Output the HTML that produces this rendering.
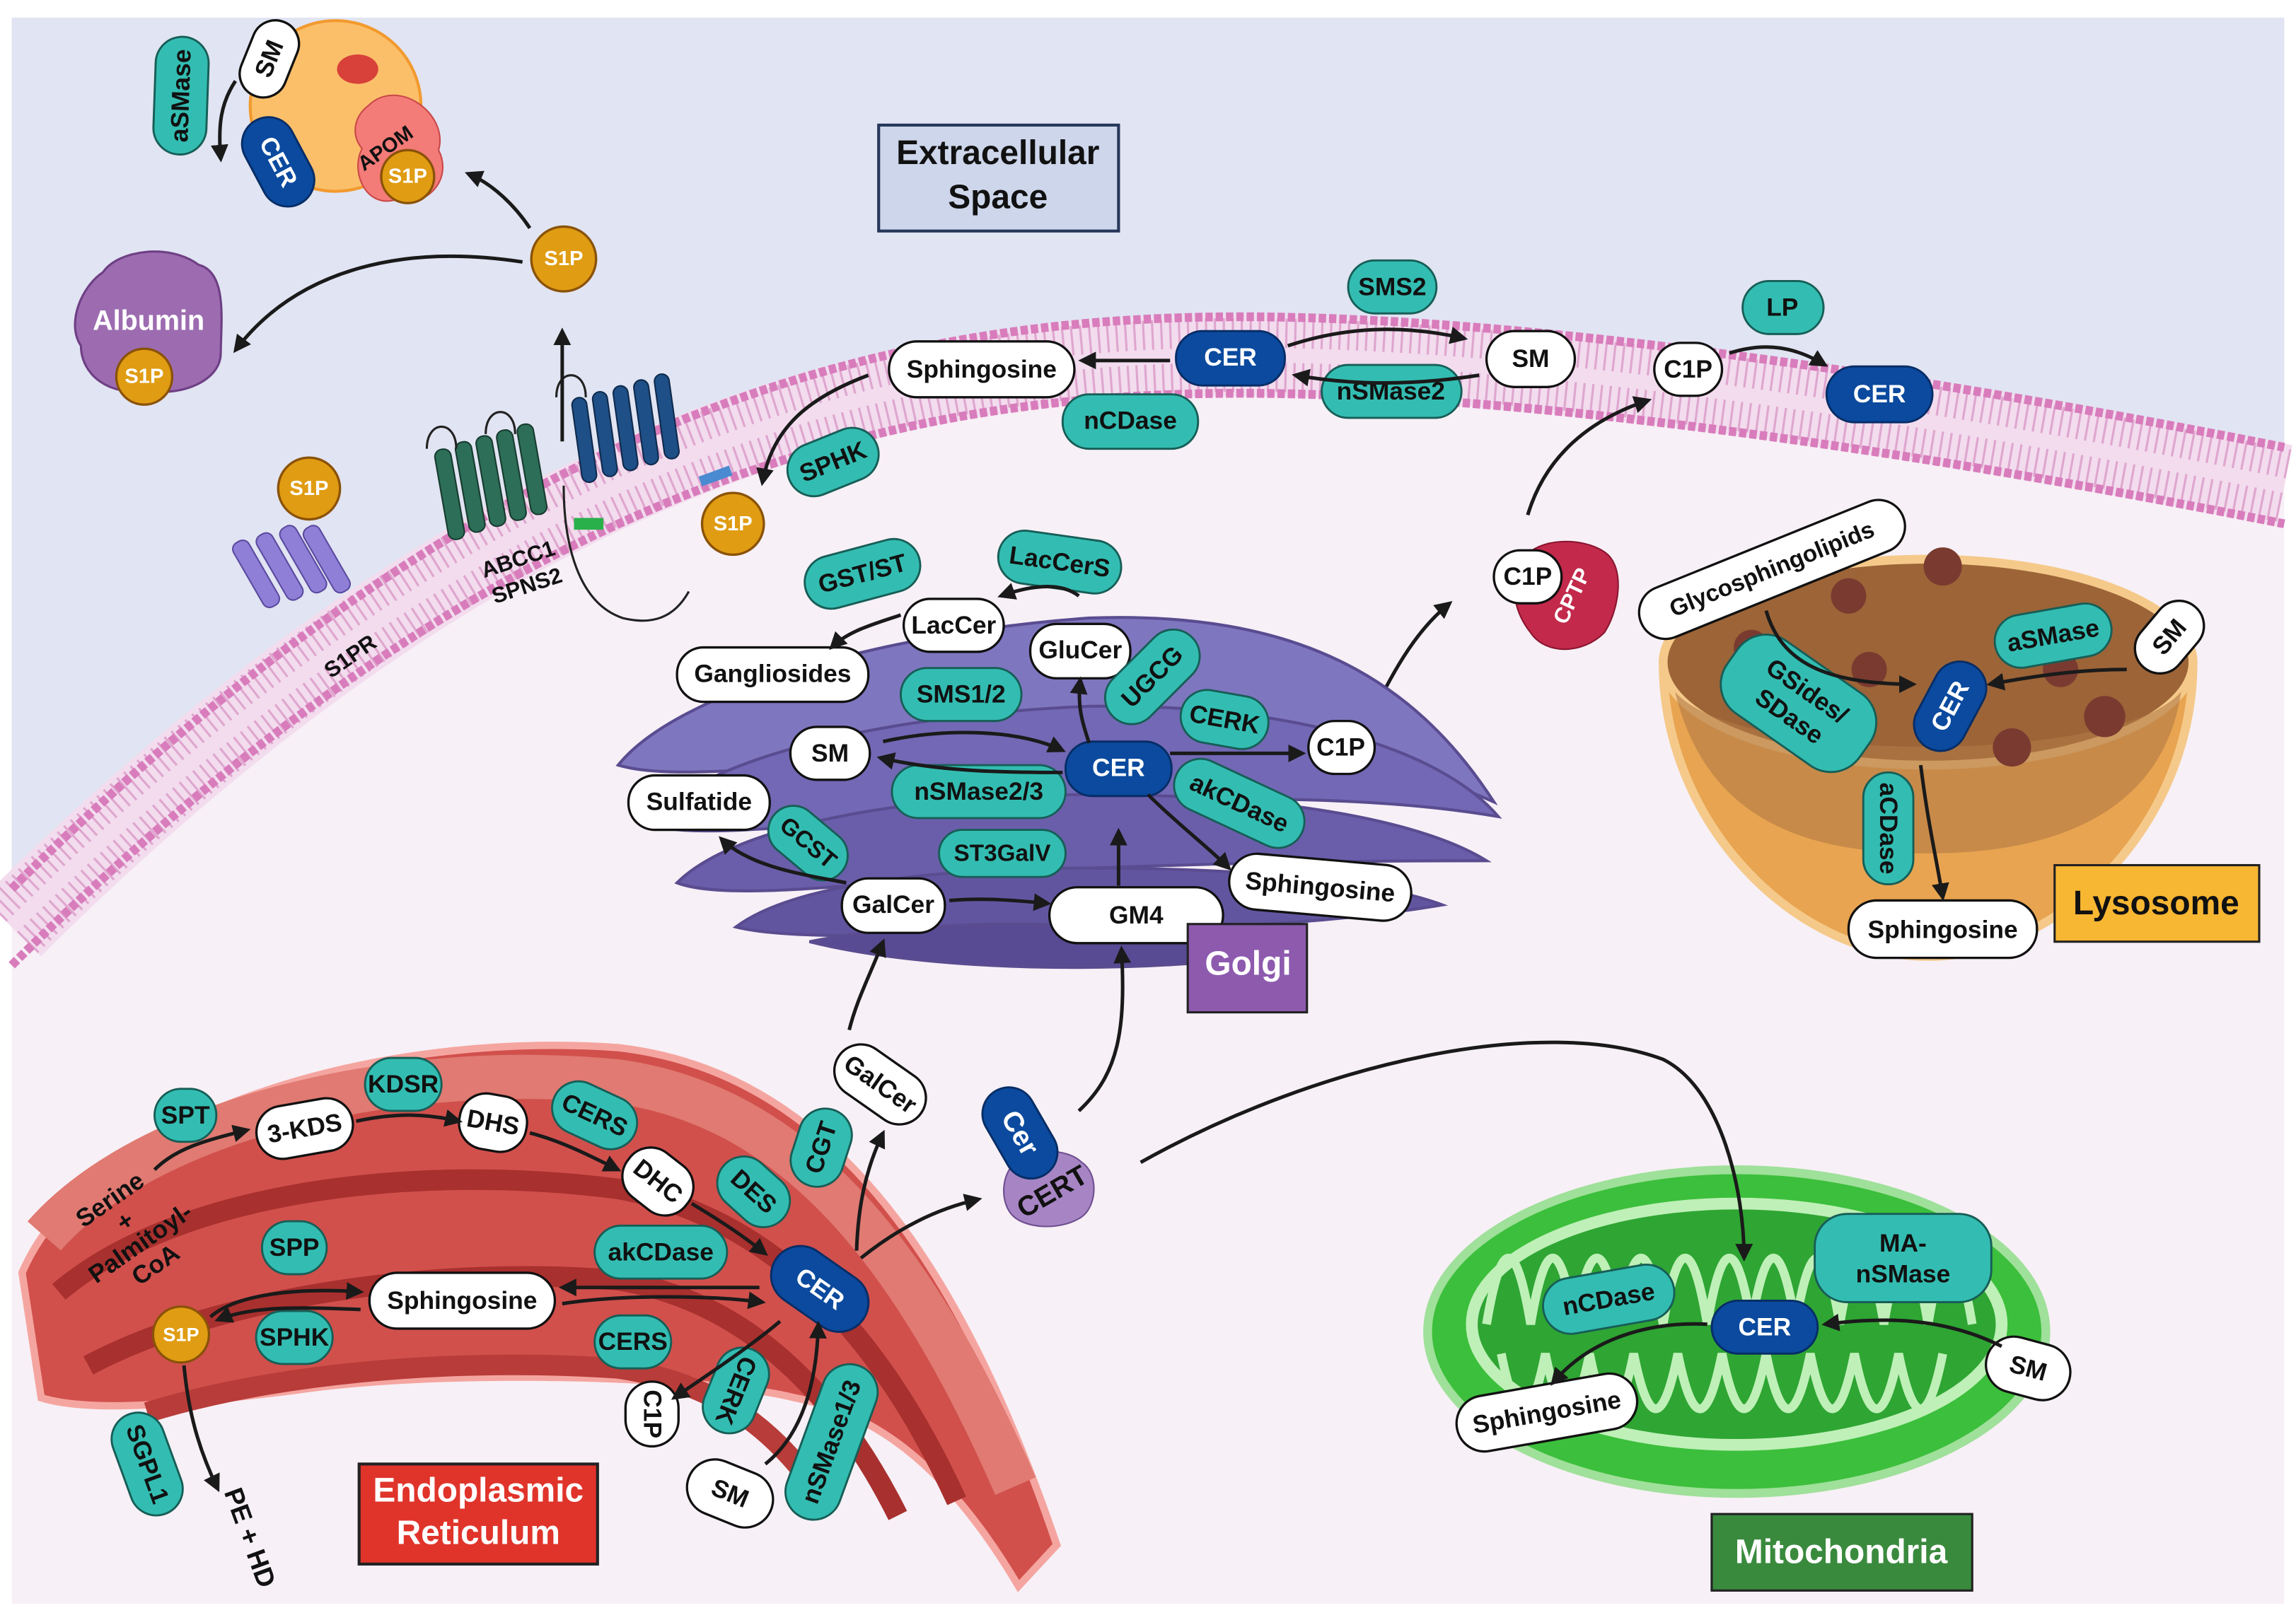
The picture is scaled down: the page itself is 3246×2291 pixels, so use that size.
<!DOCTYPE html>
<html><head><meta charset="utf-8"><style>
html,body{margin:0;padding:0;background:#fff}
svg{display:block}
.w{fill:#fff;stroke:#111;stroke-width:1.6}
.t{fill:#33bdb2;stroke:#175e57;stroke-width:1.4}
.b{fill:#0b4a9e;stroke:#062d66;stroke-width:1.4}
.o{fill:#e09c12;stroke:#8a5208;stroke-width:1.6}
text{font-family:"Liberation Sans",sans-serif;font-weight:bold;text-anchor:middle;dominant-baseline:central;fill:#111}
.wt{fill:#fff}
.a{fill:none;stroke:#1a1a1a;stroke-width:2.4;marker-end:url(#ar)}
</style></head><body>
<svg width="3246" height="2291" viewBox="0 0 1560 1101" font-size="17" xmlns="http://www.w3.org/2000/svg">
<defs>
<marker id="ar" viewBox="0 0 10 10" refX="8" refY="5" markerWidth="5" markerHeight="5" orient="auto"><path d="M0,0L10,5L0,10z" fill="#1a1a1a"/></marker>
</defs>
<rect x="0" y="0" width="1560" height="1101" fill="#fff"/>
<rect x="8" y="12" width="1544" height="1078" fill="#f7f0f6"/>
<path d="M8,12H1552V320C1300,270 1000,225 800,232C550,240 300,330 8,620Z" fill="#e1e4f2"/>
<!-- membrane -->
<path d="M8,630C300,340 550,250 800,242C1000,235 1300,280 1552,330" fill="none" stroke="#f2dcee" stroke-width="56"/>
<path d="M8,630C300,340 550,250 800,242C1000,235 1300,280 1552,330" fill="none" stroke="#d78fc0" stroke-width="50" stroke-dasharray="1.5 4.5" opacity=".7"/>
<path d="M8,630C300,340 550,250 800,242C1000,235 1300,280 1552,330" fill="none" stroke="#f2dcee" stroke-width="10"/>
<path d="M8,604C300,314 550,224 800,216C1000,209 1300,254 1552,304" fill="none" stroke="#d87cbc" stroke-width="6" stroke-dasharray="5 2"/>
<path d="M8,656C300,366 550,276 800,268C1000,261 1300,306 1552,356" fill="none" stroke="#d87cbc" stroke-width="6" stroke-dasharray="5 2"/>

<!-- HDL -->
<circle cx="228" cy="72" r="58" fill="#fbbf6a" stroke="#f29a2e" stroke-width="2"/>
<path d="M250,72c20,-20 55,5 48,30c10,20 -8,40 -30,34c-20,5 -30,-20 -22,-35c-8,-10 -5,-22 4,-29z" fill="#f37b78" stroke="#c94848"/>
<ellipse cx="243" cy="47" rx="14" ry="10" fill="#d8403a"/>
<g transform="translate(123,65) rotate(-88)"><rect x="-40" y="-18" width="80" height="36" rx="18" class="t"/><text>aSMase</text></g>
<g transform="translate(183,40) rotate(-68)"><rect x="-27" y="-16" width="54" height="32" rx="16" class="w"/><text>SM</text></g>
<g transform="translate(189,110) rotate(62)"><rect x="-32" y="-18" width="64" height="36" rx="18" class="b"/><text class="wt">CER</text></g>
<text x="262" y="101" transform="rotate(-35 262 101)" font-size="14">APOM</text>
<circle cx="277" cy="120" r="18" class="o"/><text x="277" y="120" class="wt" font-size="14">S1P</text>
<path class="a" d="M160,55C150,70 148,85 150,108"/>
<path class="a" d="M360,155C350,140 335,125 318,118"/>
<circle cx="383" cy="176" r="22" class="o"/><text x="383" y="176" class="wt" font-size="14">S1P</text>
<path class="a" d="M355,178C270,165 200,185 160,238"/>
<path d="M70,185c10,-15 45,-20 65,-5c20,5 15,40 15,60c0,20 -30,30 -50,25c-25,5 -45,-10 -45,-30c-10,-15 0,-40 15,-50z" fill="#9d6cb0" stroke="#6e3f85" stroke-width="1.5"/>
<text x="101" y="218" class="wt" font-size="19">Albumin</text>
<circle cx="98" cy="256" r="19" class="o"/><text x="98" y="256" class="wt" font-size="14">S1P</text>

<rect x="597" y="85" width="163" height="72" fill="#cdd6ea" stroke="#26375a" stroke-width="2"/>
<text x="678" y="104" font-size="23">Extracellular</text><text x="678" y="134" font-size="23">Space</text>

<circle cx="210" cy="332" r="21" class="o"/><text x="210" y="332" class="wt" font-size="14">S1P</text>
<g fill="#8f7fd6" stroke="#5a4aa0"><rect x="168" y="365" width="12" height="50" rx="5" transform="rotate(-30 174 390)"/><rect x="184" y="360" width="12" height="50" rx="5" transform="rotate(-30 190 385)"/><rect x="200" y="355" width="12" height="50" rx="5" transform="rotate(-30 206 380)"/><rect x="216" y="355" width="12" height="50" rx="5" transform="rotate(-30 222 380)"/></g>
<text x="238" y="446" transform="rotate(-35 238 446)" font-size="15">S1PR</text>
<g fill="#2d6e58" stroke="#163b2e">
<rect x="300" y="305" width="11" height="62" rx="5" transform="rotate(-10 305 336)"/><rect x="314" y="300" width="11" height="62" rx="5" transform="rotate(-10 319 331)"/><rect x="328" y="296" width="11" height="62" rx="5" transform="rotate(-10 333 327)"/><rect x="342" y="292" width="11" height="62" rx="5" transform="rotate(-10 347 323)"/><rect x="356" y="288" width="11" height="62" rx="5" transform="rotate(-10 361 319)"/></g>
<path d="M290,305c0,-20 20,-20 20,0M330,295c0,-20 20,-20 20,0" fill="none" stroke="#222" stroke-width="1.5"/>
<text x="352" y="380" transform="rotate(-18 352 380)" font-size="15">ABCC1</text>
<text x="358" y="398" transform="rotate(-18 358 398)" font-size="15">SPNS2</text>
<g fill="#1e4f86" stroke="#0e2a4d">
<rect x="392" y="270" width="10" height="58" rx="5" transform="rotate(-8 397 299)"/><rect x="406" y="266" width="10" height="58" rx="5" transform="rotate(-8 411 295)"/><rect x="420" y="262" width="10" height="58" rx="5" transform="rotate(-8 425 291)"/><rect x="434" y="258" width="10" height="58" rx="5" transform="rotate(-8 439 287)"/><rect x="448" y="254" width="10" height="58" rx="5" transform="rotate(-8 453 283)"/></g>
<path d="M378,270c0,-20 20,-20 20,0M383,330c0,40 10,80 40,90c20,5 35,0 45,-18" fill="none" stroke="#222" stroke-width="1.5"/>
<path class="a" d="M382,300V225"/>
<rect x="390" y="352" width="20" height="8" fill="#2ab04a"/>
<rect x="475" y="320" width="22" height="7" fill="#4a8ad0" transform="rotate(-20 486 323)"/>
<circle cx="498" cy="356" r="21" class="o"/><text x="498" y="356" class="wt" font-size="14">S1P</text>

<rect x="604" y="232" width="126" height="38" rx="19" class="w"/><text x="667" y="251">Sphingosine</text>
<rect x="799" y="225" width="74" height="37" rx="18" class="b"/><text x="836" y="243" class="wt">CER</text>
<rect x="916" y="177" width="60" height="36" rx="18" class="t"/><text x="946" y="195">SMS2</text>
<rect x="1010" y="225" width="60" height="38" rx="19" class="w"/><text x="1040" y="244">SM</text>
<rect x="898" y="248" width="95" height="36" rx="18" class="t"/><text x="945" y="266">nSMase2</text>
<rect x="722" y="268" width="92" height="37" rx="18" class="t"/><text x="768" y="286">nCDase</text>
<g transform="translate(566,314) rotate(-22)"><rect x="-32" y="-18" width="64" height="36" rx="18" class="t"/><text>SPHK</text></g>
<path class="a" d="M795,245H735"/>
<path class="a" d="M875,235C920,220 960,222 995,230"/>
<path class="a" d="M1005,255C960,262 920,262 880,255"/>
<path class="a" d="M590,255C550,270 525,290 518,328"/>
<rect x="1184" y="191" width="55" height="36" rx="18" class="t"/><text x="1211" y="209">LP</text>
<rect x="1124" y="233" width="46" height="36" rx="18" class="w"/><text x="1147" y="251">C1P</text>
<rect x="1241" y="249" width="72" height="38" rx="19" class="b"/><text x="1277" y="268" class="wt">CER</text>
<path class="a" d="M1175,240C1200,232 1220,236 1240,248"/>
<path class="a" d="M1038,350C1050,310 1080,285 1120,272"/>
<path d="M1035,380c10,-15 40,-15 55,-5c15,10 10,40 0,55c-15,15 -40,15 -50,0c-12,-15 -15,-35 -5,-50z" fill="#c2294a" stroke="#8a1530"/>
<text x="1068" y="405" transform="rotate(-65 1068 405)" class="wt" font-size="15">CPTP</text>
<rect x="1015" y="374" width="46" height="36" rx="18" class="w"/><text x="1038" y="392">C1P</text>
<path class="a" d="M930,490C945,460 960,430 985,410"/>

<!-- Lysosome -->
<path d="M1130,450C1130,560 1220,650 1310,650C1400,650 1490,560 1490,450Z" fill="#e8a450" stroke="#f5c98a" stroke-width="6"/>
<ellipse cx="1310" cy="450" rx="180" ry="70" fill="#9c6437" stroke="#f5c98a" stroke-width="6"/>
<path d="M1138,470C1160,560 1230,580 1310,580C1400,580 1470,550 1482,470C1440,520 1180,520 1138,470z" fill="#b07a45" opacity=".6"/>
<g fill="#7a3a30"><circle cx="1320" cy="385" r="13"/><circle cx="1256" cy="405" r="12"/><circle cx="1190" cy="440" r="12"/><circle cx="1270" cy="455" r="12"/><circle cx="1430" cy="487" r="14"/><circle cx="1367" cy="508" r="13"/><circle cx="1400" cy="455" r="12"/></g>
<g transform="translate(1204,387) rotate(-22)"><rect x="-96" y="-18" width="192" height="36" rx="18" class="w"/><text font-size="16">Glycosphingolipids</text></g>
<g transform="translate(1395,432) rotate(-10)"><rect x="-40" y="-18" width="80" height="36" rx="18" class="t"/><text>aSMase</text></g>
<g transform="translate(1474,433) rotate(-50)"><rect x="-27" y="-17" width="54" height="34" rx="17" class="w"/><text>SM</text></g>
<g transform="translate(1222,478) rotate(35)"><rect x="-55" y="-30" width="110" height="60" rx="24" class="t"/><text y="-10">GSides/</text><text y="11">SDase</text></g>
<g transform="translate(1325,480) rotate(-62)"><rect x="-32" y="-18" width="64" height="36" rx="18" class="b"/><text class="wt">CER</text></g>
<g transform="translate(1283,563) rotate(90)"><rect x="-38" y="-17" width="76" height="34" rx="17" class="t"/><text>aCDase</text></g>
<rect x="1256" y="612" width="128" height="39" rx="19" class="w"/><text x="1320" y="632">Sphingosine</text>
<path class="a" d="M1200,415C1210,450 1240,465 1300,465"/>
<path class="a" d="M1445,455C1410,455 1380,460 1352,465"/>
<path class="a" d="M1305,520C1310,560 1315,580 1320,610"/>
<rect x="1396" y="588" width="139" height="52" fill="#f8b733" stroke="#222" stroke-width="1.5"/><text x="1465" y="614" font-size="23">Lysosome</text>

<!-- Golgi -->
<g stroke="#5a4c90" stroke-width="2" fill="#7f76c0">
<path d="M420,520C460,470 600,430 740,420C880,415 960,460 1015,545C960,520 880,500 740,505C600,510 470,535 420,520z"/>
<path d="M440,560C480,510 620,485 740,480C880,478 980,510 1018,555C960,545 880,540 740,545C620,550 480,575 440,560z" fill="#7268b5"/>
<path d="M460,600C500,560 620,540 740,540C880,540 970,560 1010,585C950,585 880,585 740,590C620,595 500,615 460,600z" fill="#6a5eab"/>
<path d="M500,630C540,600 640,590 740,590C860,590 940,600 980,615C920,625 860,630 740,632C640,635 540,640 500,630z" fill="#6255a0"/>
<path d="M550,640C600,630 680,625 740,630C800,635 850,640 880,645C820,660 650,665 550,640z" fill="#594a94"/>
</g>
<g transform="translate(586,390) rotate(-15)"><rect x="-40" y="-18" width="80" height="36" rx="18" class="t"/><text>GST/ST</text></g>
<g transform="translate(720,382) rotate(8)"><rect x="-42" y="-18" width="84" height="36" rx="18" class="t"/><text>LacCerS</text></g>
<rect x="614" y="407" width="68" height="36" rx="18" class="w"/><text x="648" y="425">LacCer</text>
<rect x="700" y="424" width="68" height="37" rx="18" class="w"/><text x="734" y="442">GluCer</text>
<rect x="460" y="440" width="130" height="37" rx="18" class="w"/><text x="525" y="458">Gangliosides</text>
<rect x="612" y="454" width="82" height="36" rx="18" class="t"/><text x="653" y="472">SMS1/2</text>
<g transform="translate(783,460) rotate(-45)"><rect x="-38" y="-18" width="76" height="36" rx="18" class="t"/><text>UGCG</text></g>
<g transform="translate(832,489) rotate(10)"><rect x="-30" y="-18" width="60" height="36" rx="18" class="t"/><text>CERK</text></g>
<rect x="537" y="494" width="54" height="36" rx="18" class="w"/><text x="564" y="512">SM</text>
<rect x="724" y="504" width="72" height="37" rx="18" class="b"/><text x="760" y="522" class="wt">CER</text>
<rect x="889" y="490" width="45" height="36" rx="18" class="w"/><text x="911" y="508">C1P</text>
<rect x="606" y="520" width="118" height="36" rx="18" class="t"/><text x="665" y="538">nSMase2/3</text>
<g transform="translate(842,546) rotate(25)"><rect x="-47" y="-18" width="94" height="36" rx="18" class="t"/><text>akCDase</text></g>
<rect x="427" y="527" width="96" height="37" rx="18" class="w"/><text x="475" y="545">Sulfatide</text>
<g transform="translate(549,573) rotate(40)"><rect x="-30" y="-17" width="60" height="34" rx="17" class="t"/><text font-size="16">GCST</text></g>
<rect x="638" y="564" width="86" height="32" rx="16" class="t"/><text x="681" y="580" font-size="16">ST3GalV</text>
<g transform="translate(897,603) rotate(5)"><rect x="-62" y="-19" width="124" height="38" rx="19" class="w"/><text>Sphingosine</text></g>
<rect x="572" y="597" width="70" height="37" rx="18" class="w"/><text x="607" y="615">GalCer</text>
<rect x="713" y="603" width="118" height="38" rx="19" class="w"/><text x="772" y="622">GM4</text>
<rect x="807" y="628" width="81" height="60" fill="#8d5aae" stroke="#222" stroke-width="1.5"/><text x="848" y="655" class="wt" font-size="23">Golgi</text>
<path class="a" d="M733,405C720,395 700,398 680,405"/>
<path class="a" d="M612,418C590,425 575,430 565,440"/>
<path class="a" d="M740,505C735,490 732,480 734,462"/>
<path class="a" d="M795,512H885"/>
<path class="a" d="M780,540C800,560 820,575 835,590"/>
<path class="a" d="M600,504C640,495 690,495 722,510"/>
<path class="a" d="M722,525C690,525 640,525 598,515"/>
<path class="a" d="M575,600C550,595 510,590 490,570"/>
<path class="a" d="M645,612C670,610 690,612 712,614"/>
<path class="a" d="M760,602V565"/>

<!-- ER -->
<path d="M15,865C60,760 250,700 420,712C560,728 650,850 718,1050L692,1078C640,990 590,960 540,950C480,935 300,930 200,945C120,955 60,960 28,950Z" fill="#d1504c" stroke="#f5a5a0" stroke-width="5"/>
<path d="M30,840C100,760 270,720 420,735C540,752 620,850 690,1010" fill="none" stroke="#e07a72" stroke-width="30"/>
<path d="M40,878C120,810 280,790 420,808C520,826 595,900 650,1020" fill="none" stroke="#a8302e" stroke-width="14"/>
<path d="M60,928C150,880 300,860 420,870C510,885 570,950 610,1030" fill="none" stroke="#a8302e" stroke-width="14"/>
<path d="M100,960C180,935 300,922 420,930C490,940 530,975 560,1020" fill="none" stroke="#b83c39" stroke-width="14"/>

<!-- between Golgi and ER -->
<path class="a" d="M577,700C582,680 590,665 600,640"/>
<g transform="translate(598,737) rotate(35)"><rect x="-34" y="-18" width="68" height="36" rx="18" class="w"/><text>GalCer</text></g>
<g transform="translate(558,780) rotate(-72)"><rect x="-27" y="-18" width="54" height="36" rx="18" class="t"/><text>CGT</text></g>
<path class="a" d="M582,850C583,820 588,795 600,770"/>
<path class="a" d="M585,855C610,835 635,822 665,815"/>
<path class="a" d="M733,755C760,730 765,700 762,645"/>
<path d="M690,790c10,-10 35,-10 45,0c12,8 10,30 0,37c-15,10 -40,8 -48,-2c-8,-10 -6,-28 3,-35z" fill="#a785c4" stroke="#6e4e90"/>
<text x="715" y="810" transform="rotate(-30 715 810)" font-size="19">CERT</text>
<g transform="translate(693,770) rotate(60)"><rect x="-33" y="-18" width="66" height="36" rx="18" class="b"/><text class="wt" font-size="19">Cer</text></g>

<rect x="105" y="740" width="42" height="36" rx="18" class="t"/><text x="126" y="758">SPT</text>
<rect x="248" y="719" width="52" height="36" rx="18" class="t"/><text x="274" y="737">KDSR</text>
<g transform="translate(207,767) rotate(-10)"><rect x="-33" y="-18" width="66" height="36" rx="18" class="w"/><text>3-KDS</text></g>
<g transform="translate(335,763) rotate(10)"><rect x="-23" y="-19" width="46" height="38" rx="18" class="w"/><text>DHS</text></g>
<g transform="translate(404,758) rotate(25)"><rect x="-30" y="-18" width="60" height="36" rx="18" class="t"/><text>CERS</text></g>
<g transform="translate(447,803) rotate(38)"><rect x="-25" y="-19" width="50" height="38" rx="18" class="w"/><text>DHC</text></g>
<g transform="translate(512,810) rotate(42)"><rect x="-27" y="-18" width="54" height="36" rx="18" class="t"/><text>DES</text></g>
<g transform="translate(92,840) rotate(-35)"><text y="-30">Serine</text><text y="-12">+</text><text y="6">Palmitoyl-</text><text y="24">CoA</text></g>
<path class="a" d="M105,795C120,780 140,775 168,768"/>
<path class="a" d="M242,762C270,756 290,757 312,762"/>
<path class="a" d="M360,770C380,775 400,785 420,795"/>
<path class="a" d="M470,818C490,830 505,840 520,852"/>
<rect x="178" y="830" width="44" height="36" rx="18" class="t"/><text x="200" y="848">SPP</text>
<rect x="404" y="833" width="90" height="36" rx="18" class="t"/><text x="449" y="851">akCDase</text>
<g transform="translate(557,876) rotate(35)"><rect x="-36" y="-20" width="72" height="40" rx="20" class="b"/><text class="wt">CER</text></g>
<rect x="251" y="865" width="126" height="38" rx="19" class="w"/><text x="314" y="884">Sphingosine</text>
<circle cx="123" cy="907" r="19" class="o"/><text x="123" y="907" class="wt" font-size="13">S1P</text>
<rect x="174" y="891" width="52" height="36" rx="18" class="t"/><text x="200" y="909">SPHK</text>
<rect x="404" y="894" width="52" height="36" rx="18" class="t"/><text x="430" y="912">CERS</text>
<path class="a" d="M516,875H382"/>
<path class="a" d="M382,886C420,880 480,880 518,885"/>
<path class="a" d="M143,895C160,880 200,875 245,878"/>
<path class="a" d="M245,890C200,888 170,888 148,897"/>
<g transform="translate(443,961) rotate(90)"><rect x="-22" y="-18" width="44" height="36" rx="18" class="w"/><text>C1P</text></g>
<g transform="translate(500,945) rotate(112)"><rect x="-30" y="-18" width="60" height="36" rx="18" class="t"/><text>CERK</text></g>
<path class="a" d="M530,898C510,915 480,935 458,950"/>
<g transform="translate(496,1015) rotate(22)"><rect x="-30" y="-19" width="60" height="38" rx="19" class="w"/><text>SM</text></g>
<g transform="translate(565,980) rotate(-70)"><rect x="-55" y="-19" width="110" height="38" rx="19" class="t"/><text>nSMase1/3</text></g>
<path class="a" d="M520,995C545,975 555,940 556,900"/>
<g transform="translate(100,995) rotate(70)"><rect x="-36" y="-18" width="72" height="36" rx="18" class="t"/><text>SGPL1</text></g>
<path class="a" d="M125,928C128,960 135,985 148,1012"/>
<text x="170" y="1045" transform="rotate(70 170 1045)" font-size="18">PE + HD</text>
<rect x="244" y="995" width="162" height="68" fill="#e0342b" stroke="#222" stroke-width="2"/>
<text x="325" y="1013" class="wt" font-size="23">Endoplasmic</text><text x="325" y="1042" class="wt" font-size="23">Reticulum</text>

<!-- Mitochondria -->
<ellipse cx="1180" cy="905" rx="210" ry="110" fill="#3cbf3c" stroke="#9fe09a" stroke-width="6"/>
<ellipse cx="1180" cy="900" rx="180" ry="82" fill="#2fa533" stroke="#bff0b8" stroke-width="8"/>
<path d="M1010,900c10,-60 20,-60 30,0c10,-60 20,-60 30,0c10,-60 20,-60 30,0c10,-60 20,-60 30,0c10,-60 20,-60 30,0c10,-60 20,-60 30,0c10,-60 20,-60 30,0c10,-60 20,-60 30,0c10,-60 20,-60 30,0c10,-60 20,-60 30,0c10,-60 20,-60 30,0M1020,920c10,50 20,50 30,0c10,50 20,50 30,0c10,50 20,50 30,0c10,50 20,50 30,0c10,50 20,50 30,0c10,50 20,50 30,0c10,50 20,50 30,0c10,50 20,50 30,0c10,50 20,50 30,0c10,50 20,50 30,0" fill="none" stroke="#bff0b8" stroke-width="6"/>
<path class="a" d="M775,790C900,720 1050,690 1130,720C1170,740 1185,810 1185,855"/>
<rect x="1233" y="825" width="120" height="60" rx="22" class="t"/><text x="1293" y="845">MA-</text><text x="1293" y="866">nSMase</text>
<g transform="translate(1093,883) rotate(-10)"><rect x="-45" y="-19" width="90" height="38" rx="19" class="t"/><text>nCDase</text></g>
<rect x="1163" y="884" width="72" height="36" rx="18" class="b"/><text x="1199" y="902" class="wt">CER</text>
<g transform="translate(1378,930) rotate(15)"><rect x="-29" y="-19" width="58" height="38" rx="19" class="w"/><text>SM</text></g>
<g transform="translate(1051,960) rotate(-10)"><rect x="-62" y="-19" width="124" height="38" rx="19" class="w"/><text>Sphingosine</text></g>
<path class="a" d="M1360,915C1320,895 1280,895 1240,900"/>
<path class="a" d="M1160,900C1120,898 1080,910 1055,940"/>
<rect x="1163" y="1029" width="177" height="52" fill="#3a8a3e" stroke="#222" stroke-width="1.5"/><text x="1251" y="1055" class="wt" font-size="23">Mitochondria</text>
</svg>
</body></html>
